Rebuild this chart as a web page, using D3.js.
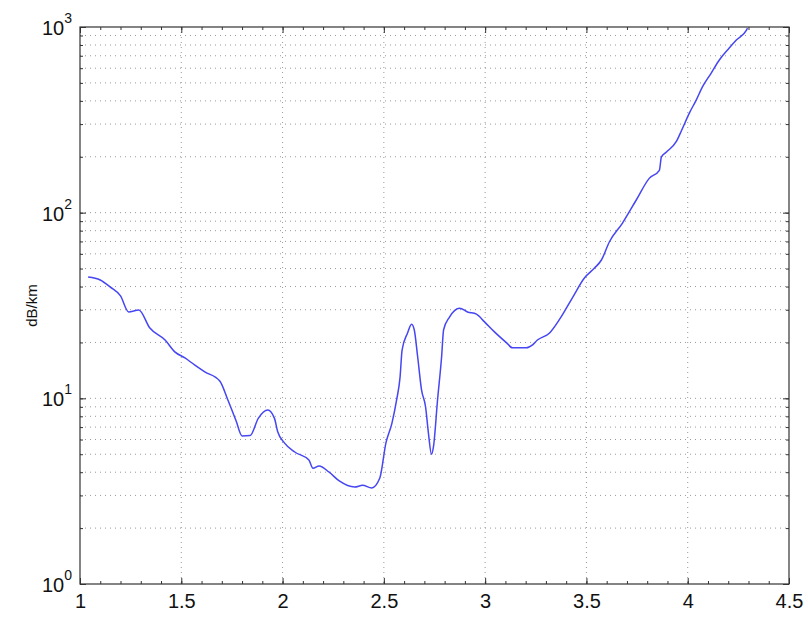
<!DOCTYPE html>
<html>
<head>
<meta charset="utf-8">
<script src="https://cdn.jsdelivr.net/npm/d3@7"></script>
<style>
  body { margin: 0; background: #fff; }
  text { font-family: "Liberation Sans", Arial, Helvetica, sans-serif; fill: #111; }
</style>
</head>
<body>
<svg id="chart" width="808" height="618"></svg>
<script>
// Wavelength (µm) and attenuation (dB/km)
const wavelength = [1.04, 1.10, 1.15, 1.20, 1.24, 1.29, 1.345, 1.42, 1.468, 1.518, 1.567, 1.616, 1.69,
  1.73, 1.77, 1.80, 1.84, 1.88, 1.927, 1.96, 1.976, 2.01, 2.06, 2.13, 2.15, 2.18, 2.23, 2.28, 2.356,
  2.395, 2.44, 2.48, 2.51, 2.54, 2.563, 2.58, 2.59, 2.617, 2.637, 2.65, 2.667, 2.686, 2.706, 2.72,
  2.735, 2.745, 2.765, 2.785, 2.795, 2.824, 2.874, 2.913, 2.957, 2.997, 3.046, 3.106, 3.135, 3.204,
  3.234, 3.258, 3.318, 3.367, 3.43, 3.49, 3.54, 3.574, 3.613, 3.678, 3.746, 3.81, 3.86, 3.87, 3.895,
  3.944, 3.97, 4.008, 4.042, 4.072, 4.116, 4.156, 4.205, 4.24, 4.29, 4.295];
const attenuation = [45, 43.4, 39.7, 35.6, 29.2, 29.9, 23.9, 20.6, 17.8, 16.5, 15.1, 13.9, 12.4,
  9.8, 7.6, 6.27, 6.3, 7.8, 8.65, 7.8, 6.6, 5.74, 5.14, 4.65, 4.2, 4.32, 4.0, 3.59, 3.33,
  3.4, 3.29, 3.72, 5.74, 7.36, 9.8, 13.0, 18.2, 22.5, 25.1, 23.4, 16.7, 11.1, 8.98, 6.5,
  5.0, 5.5, 9.8, 16.7, 23.4, 27.4, 30.6, 29.2, 28.4, 25.8, 22.8, 19.9, 18.7, 18.7,
  19.4, 20.6, 22.5, 26.6, 34.7, 44.5, 50.3, 55.6, 69.5, 87.9, 117, 153, 169, 199, 212,
  242, 278, 344, 404, 474, 565, 664, 770, 850, 962, 986];
const xTicks = [1, 1.5, 2, 2.5, 3, 3.5, 4, 4.5];
const yExponents = [0, 1, 2, 3];
const yLabel = "dB/km";

const svg = d3.select("#chart");
const m = { left: 80, right: 19, top: 27, bottom: 34 };
const W = 808, H = 618;
const iw = W - m.left - m.right, ih = H - m.top - m.bottom;

const x = d3.scaleLinear().domain([1, 4.5]).range([m.left, m.left + iw]);
const y = d3.scaleLog().domain([1, 1000]).range([m.top + ih, m.top]);

const g = svg.append("g");

// Grid
const yGrid = [];
for (let e = 0; e < 3; e++) for (let k = 1; k <= 9; k++) yGrid.push(k * Math.pow(10, e));
yGrid.push(1000);
g.append("g").selectAll("line").data(yGrid.filter(v => v > 1 && v < 1000)).join("line")
  .attr("x1", m.left).attr("x2", m.left + iw)
  .attr("y1", d => y(d)).attr("y2", d => y(d))
  .attr("stroke", "#999").attr("stroke-width", 1).attr("stroke-dasharray", "1,4");
g.append("g").selectAll("line").data(xTicks.filter(v => v > 1 && v < 4.5)).join("line")
  .attr("x1", d => x(d)).attr("x2", d => x(d))
  .attr("y1", m.top).attr("y2", m.top + ih)
  .attr("stroke", "#999").attr("stroke-width", 1).attr("stroke-dasharray", "1,4");

// Curve
const line = d3.line().x((d, i) => x(wavelength[i])).y(d => y(d)).curve(d3.curveMonotoneX);
g.append("path").datum(attenuation).attr("d", line)
  .attr("fill", "none").attr("stroke", "#4646f2").attr("stroke-width", 1.5);

// Box
g.append("rect").attr("x", m.left).attr("y", m.top).attr("width", iw).attr("height", ih)
  .attr("fill", "none").attr("stroke", "#333").attr("stroke-width", 1.2);

// Axes with inward ticks
const xMinor = d3.range(1, 4.5001, 0.1).map(v => +v.toFixed(2));
const axB = d3.axisBottom(x).tickValues(xMinor).tickSize(-3).tickFormat("");
const axT = d3.axisTop(x).tickValues(xMinor).tickSize(-3).tickFormat("");
const axB2 = d3.axisBottom(x).tickValues(xTicks).tickSize(-6).tickPadding(12).tickFormat(d => d3.format("")(d));
const axT2 = d3.axisTop(x).tickValues(xTicks).tickSize(-6).tickFormat("");
const yMajor = yExponents.map(e => Math.pow(10, e));
const axL = d3.axisLeft(y).tickValues(yGrid).tickSize(-3).tickFormat("");
const axR = d3.axisRight(y).tickValues(yGrid).tickSize(-3).tickFormat("");
const axL2 = d3.axisLeft(y).tickValues(yMajor).tickSize(-6).tickFormat("");
const axR2 = d3.axisRight(y).tickValues(yMajor).tickSize(-6).tickFormat("");

function style(sel) {
  sel.select(".domain").remove();
  sel.selectAll(".tick line").attr("stroke", "#333");
}
g.append("g").attr("transform", `translate(0,${m.top + ih})`).call(axB).call(style);
g.append("g").attr("transform", `translate(0,${m.top})`).call(axT).call(style);
const xb = g.append("g").attr("transform", `translate(0,${m.top + ih})`).call(axB2).call(style);
xb.selectAll(".tick text").attr("font-size", 20).attr("fill", "#111")
  .attr("font-family", "Liberation Sans, Arial, sans-serif").attr("dy", "0.62em");
g.append("g").attr("transform", `translate(0,${m.top})`).call(axT2).call(style);
g.append("g").attr("transform", `translate(${m.left},0)`).call(axL).call(style);
g.append("g").attr("transform", `translate(${m.left + iw},0)`).call(axR).call(style);
g.append("g").attr("transform", `translate(${m.left},0)`).call(axL2).call(style);
g.append("g").attr("transform", `translate(${m.left + iw},0)`).call(axR2).call(style);

// Y tick labels 10^n
yExponents.forEach(e => {
  const t = g.append("text").attr("x", m.left - 8).attr("y", y(Math.pow(10, e)) + 8)
    .attr("text-anchor", "end").attr("font-size", 20);
  t.append("tspan").text("10");
  t.append("tspan").text(e).attr("font-size", 14).attr("dy", -12);
});

// Y label
svg.append("text").attr("transform", `translate(37,${m.top + ih / 2}) rotate(-90)`)
  .attr("text-anchor", "middle").attr("font-size", 15).text(yLabel);
</script>
</body>
</html>
